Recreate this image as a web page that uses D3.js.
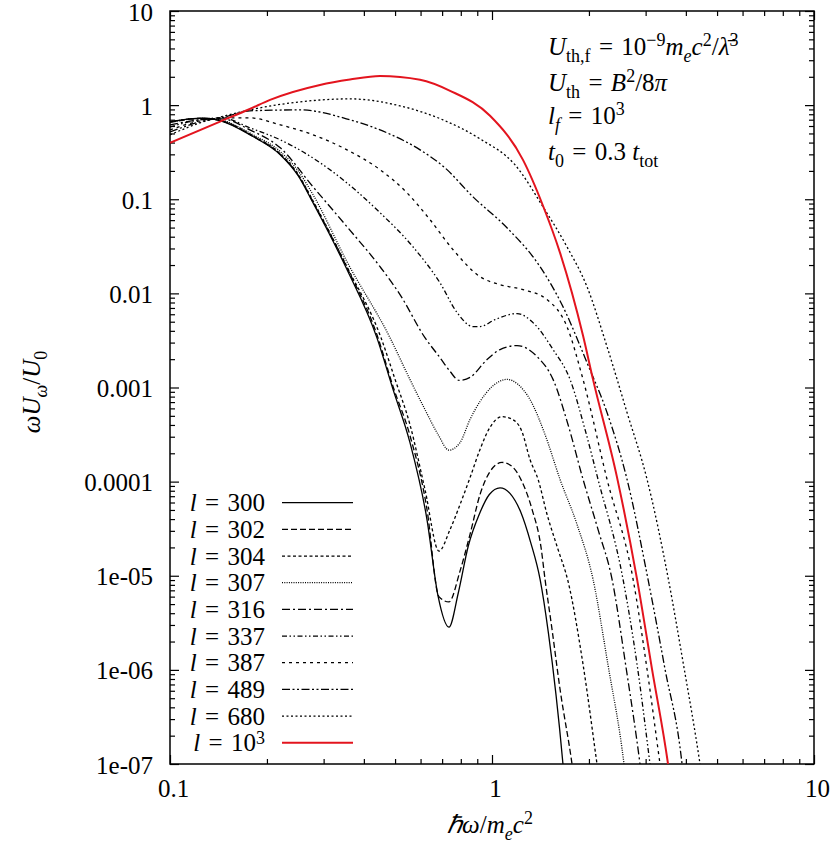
<!DOCTYPE html>
<html>
<head>
<meta charset="utf-8">
<script src="https://cdn.jsdelivr.net/npm/d3@7"></script>
<style>
  body { margin: 0; background: #fff; }
</style>
</head>
<body>
<svg id="chart" width="830" height="843"></svg>
<script>
"use strict";

// [ħω/m_e c², ωU_ω/U_0], one list per l
const l300 = [[0.1,0.669],[0.1266,0.727],[0.143,0.686],[0.181,0.464],[0.22,0.297],[0.25,0.178],[0.278,0.0918],[0.3545,0.0179],[0.439,0.00339],[0.493,0.00095],[0.556,0.000261],[0.628,3.98e-5],[0.68,6.06e-6],[0.735,2.84e-6],[0.786,6.6e-6],[0.844,2.07e-5],[0.913,4.5e-5],[0.981,7.3e-5],[1.059,8.6e-5],[1.137,7.5e-5],[1.228,4.75e-5],[1.319,2.25e-5],[1.41,9.2e-6],[1.496,2.5e-6],[1.661,1e-7],[1.7,4e-8]];
const l302 = [[0.1,0.656],[0.1266,0.724],[0.143,0.689],[0.181,0.466],[0.22,0.3],[0.25,0.181],[0.278,0.094],[0.3545,0.0188],[0.439,0.00365],[0.493,0.00102],[0.556,0.00031],[0.628,5.1e-5],[0.684,6.0e-6],[0.735,5.27e-6],[0.7955,1.12e-5],[0.8545,2.75e-5],[0.918,7.3e-5],[0.986,1.28e-4],[1.074,1.6e-4],[1.154,1.45e-4],[1.239,1.0e-4],[1.331,5.1e-5],[1.42,2.0e-5],[1.461,9.2e-6],[1.536,2.7e-6],[1.626,6.3e-7],[1.772,1e-7],[1.82,5e-8]];
const l304 = [[0.1,0.664],[0.1266,0.724],[0.143,0.689],[0.181,0.472],[0.22,0.304],[0.25,0.184],[0.278,0.0964],[0.3545,0.0192],[0.452,0.00339],[0.5,0.00122],[0.556,0.000405],[0.619,8.3e-5],[0.6845,1.83e-5],[0.741,3.1e-5],[0.7955,5.7e-5],[0.8545,1.1e-4],[0.918,2.2e-4],[0.985,3.76e-4],[1.074,4.9e-4],[1.154,4.6e-4],[1.239,3.4e-4],[1.312,1.72e-4],[1.39,1.06e-4],[1.482,4.5e-5],[1.603,1.91e-5],[1.722,8.75e-6],[1.917,1.15e-6],[2.119,1e-7],[2.2,4e-8]];
const l307 = [[0.1,0.664],[0.1266,0.724],[0.143,0.698],[0.181,0.484],[0.22,0.321],[0.25,0.2],[0.278,0.112],[0.3545,0.0217],[0.482,0.00339],[0.556,0.00122],[0.619,5.84e-4],[0.68,3.17e-4],[0.735,2.16e-4],[0.7955,2.6e-4],[0.8545,4.57e-4],[0.918,7.1e-4],[1.0,1.02e-3],[1.113,1.22e-3],[1.204,1.08e-3],[1.312,7.46e-4],[1.461,3.17e-4],[1.626,1.06e-4],[1.837,3.5e-5],[2.059,9.2e-6],[2.29,1.15e-6],[2.57,1e-7],[2.65,4e-8]];
const l316 = [[0.1,0.617],[0.124,0.698],[0.145,0.715],[0.177,0.546],[0.22,0.352],[0.278,0.1357],[0.3545,0.0511],[0.449,0.0192],[0.518,0.0097],[0.619,0.00339],[0.689,0.00208],[0.741,0.00148],[0.79,0.00119],[0.8545,0.00128],[0.965,0.00198],[1.059,0.00253],[1.196,0.00279],[1.38,0.00213],[1.547,0.00122],[1.722,4.05e-4],[1.917,1.06e-4],[2.134,3.11e-5],[2.359,9.2e-6],[2.607,1.07e-6],[2.882,1e-7],[2.98,4e-8]];
const l337 = [[0.1,0.588],[0.124,0.698],[0.145,0.732],[0.177,0.574],[0.22,0.428],[0.314,0.206],[0.449,0.0719],[0.568,0.0313],[0.689,0.013],[0.779,0.00625],[0.873,0.00444],[0.918,0.00444],[1.022,0.00527],[1.196,0.0061],[1.36,0.00466],[1.547,0.00253],[1.747,0.00122],[1.945,3.58e-4],[2.134,1.06e-4],[2.552,9.2e-6],[2.821,1.15e-6],[3.095,1e-7],[3.2,4e-8]];
const l387 = [[0.1,0.546],[0.124,0.681],[0.148,0.732],[0.177,0.732],[0.22,0.617],[0.278,0.484],[0.3545,0.335],[0.449,0.206],[0.5445,0.117],[0.642,0.0606],[0.757,0.0291],[0.918,0.01505],[1.059,0.01238],[1.248,0.01096],[1.482,0.00859],[1.709,0.00444],[1.917,0.00122],[2.276,1.06e-4],[2.742,9.2e-6],[3.03,1.02e-6],[3.325,1e-7],[3.45,4e-8]];
const l489 = [[0.1,0.52],[0.124,0.664],[0.148,0.75],[0.177,0.87],[0.253,0.89],[0.362,0.698],[0.472,0.508],[0.598,0.335],[0.714,0.216],[0.873,0.106],[1.113,0.0498],[1.41,0.0192],[1.661,0.00723],[1.972,0.00184],[2.276,5.43e-4],[2.626,1.06e-4],[3.051,9.2e-6],[3.446,1.02e-6],[3.892,1e-7],[4.0,4e-8]];
const l680 = [[0.1,0.484],[0.124,0.648],[0.148,0.769],[0.177,0.89],[0.253,1.083],[0.362,1.165],[0.518,0.982],[0.704,0.698],[0.918,0.438],[1.179,0.232],[1.44,0.0832],[1.709,0.0313],[1.972,0.0118],[2.276,0.00272],[2.626,5.43e-4],[3.03,1.06e-4],[3.521,9.6e-6],[3.92,1.21e-6],[4.426,1e-7],[4.6,4e-8]];
const l1000 = [[0.1,0.398],[0.143,0.669],[0.177,0.91],[0.2045,1.137],[0.2922,1.64],[0.362,1.87],[0.449,2.04],[0.598,1.86],[0.741,1.42],[0.986,0.77],[1.248,0.262],[1.44,0.0853],[1.626,0.0271],[1.917,0.00356],[2.059,0.00122],[2.445,1.11e-4],[2.821,9.2e-6],[3.14,1.02e-6],[3.521,1e-7],[3.65,4e-8]];

const series = [l300, l302, l304, l307, l316, l337, l387, l489, l680, l1000];
const legendNames = ["300", "302", "304", "307", "316", "337", "387", "489", "680", "10"];

const xTicks = [0.1, 1, 10];
const xTickLabels = ["0.1", "1", "10"];
const yTicks = [10, 1, 0.1, 0.01, 0.001, 0.0001, 1e-5, 1e-6, 1e-7];
const yTickLabels = ["10", "1", "0.1", "0.01", "0.001", "0.0001", "1e-05", "1e-06", "1e-07"];

// line looks, gnuplot style
const dashes = [null, "6,3", "3,2.5", "1,1.3", "8,3,2,3", "5,2.5,1.5,2.5,1.5,2.5", "3,4", "8,2.5,2,2.5,2,2.5", "2,2.5", null];

const FONT = "'Liberation Serif'";
const EQ = "\u2004=\u2004"; // wider spacing round "=" like TeX

const svg = d3.select("#chart").style("font-family", FONT);
const pLeft = 170, pRight = 814, pTop = 11, pBottom = 764;

const x = d3.scaleLog().domain([0.1, 10]).range([pLeft, pRight]);
const y = d3.scaleLog().domain([1e-7, 10]).range([pBottom, pTop]);

// minor tick values 2..9 per decade
const minorX = [];
[0.1, 1].forEach(d => { for (let k = 2; k <= 9; k++) minorX.push(d * k); });
const minorY = [];
for (let e = -7; e < 1; e++) { for (let k = 2; k <= 9; k++) minorY.push(k * Math.pow(10, e)); }

svg.append("defs").append("clipPath").attr("id", "plotclip")
  .append("rect").attr("x", pLeft).attr("y", pTop).attr("width", pRight - pLeft).attr("height", pBottom - pTop);

function tidy(g) {
  g.attr("font-family", null).attr("font-size", null);
  g.select(".domain").remove();
  g.selectAll(".tick line").attr("stroke", "#000").attr("stroke-width", 1.2);
  g.selectAll(".tick text").style("font-family", FONT).style("font-size", "25px").attr("fill", "#000");
}

// bottom
svg.append("g").attr("transform", `translate(0,${pBottom})`)
  .call(d3.axisBottom(x).tickValues(xTicks).tickSize(-9).tickPadding(15)
    .tickFormat((d, i) => xTickLabels[i]))
  .call(tidy)
  .selectAll(".tick text").attr("dx", 3);
svg.append("g").attr("transform", `translate(0,${pBottom})`)
  .call(d3.axisBottom(x).tickValues(minorX).tickSize(-5).tickFormat(""))
  .call(tidy);
// top
svg.append("g").attr("transform", `translate(0,${pTop})`)
  .call(d3.axisTop(x).tickValues(xTicks).tickSize(-9).tickFormat(""))
  .call(tidy);
svg.append("g").attr("transform", `translate(0,${pTop})`)
  .call(d3.axisTop(x).tickValues(minorX).tickSize(-5).tickFormat(""))
  .call(tidy);
// left
svg.append("g").attr("transform", `translate(${pLeft},0)`)
  .call(d3.axisLeft(y).tickValues(yTicks).tickSize(-9).tickPadding(17)
    .tickFormat((d, i) => yTickLabels[i]))
  .call(tidy)
  .selectAll(".tick text").attr("dy", "0.36em");
svg.append("g").attr("transform", `translate(${pLeft},0)`)
  .call(d3.axisLeft(y).tickValues(minorY).tickSize(-5).tickFormat(""))
  .call(tidy);
// right
svg.append("g").attr("transform", `translate(${pRight},0)`)
  .call(d3.axisRight(y).tickValues(yTicks).tickSize(-9).tickFormat(""))
  .call(tidy);
svg.append("g").attr("transform", `translate(${pRight},0)`)
  .call(d3.axisRight(y).tickValues(minorY).tickSize(-5).tickFormat(""))
  .call(tidy);

svg.append("rect")
  .attr("x", pLeft).attr("y", pTop).attr("width", pRight - pLeft).attr("height", pBottom - pTop)
  .attr("fill", "none").attr("stroke", "#000").attr("stroke-width", 1.5);

// curves
const line = d3.line()
  .x(d => x(d[0]))
  .y(d => y(d[1]))
  .curve(d3.curveMonotoneX);

const curves = svg.append("g").attr("clip-path", "url(#plotclip)");
series.forEach((s, i) => {
  const isRed = i === series.length - 1;
  curves.append("path")
    .datum(s)
    .attr("d", line)
    .attr("fill", "none")
    .attr("stroke", isRed ? "#e3141e" : "#000")
    .attr("stroke-width", isRed ? 2 : 1.3)
    .attr("stroke-dasharray", dashes[i]);
});

// small helper for math-ish text with sub/superscripts
function mathText(g, tx, ty, parts, anchor, size) {
  size = size || 25;
  const t = g.append("text").attr("x", tx).attr("y", ty)
    .attr("text-anchor", anchor || "start")
    .style("font-family", FONT).style("font-size", size + "px").attr("fill", "#000");
  let shift = 0;
  parts.forEach(p => {
    const target = p.sub ? 0.26 * size : p.sup ? -(p.lift || 0.36) * size : 0;
    const ts = t.append("tspan").attr("dy", target - shift).text(p.t);
    shift = target;
    if (p.it) ts.style("font-style", "italic");
    if (p.sub || p.sup) ts.style("font-size", Math.round(size * 0.7) + "px");
  });
  return t;
}

// legend
const legend = svg.append("g");
series.forEach((s, i) => {
  const ly = 502.7 + i * 26.67;
  const parts = [{ t: "l", it: true }, { t: EQ + legendNames[i] }];
  if (i === series.length - 1) parts.push({ t: "3", sup: true, lift: 0.3 });
  mathText(legend, 265, ly + 8.5, parts, "end");
  const isRed = i === series.length - 1;
  legend.append("line")
    .attr("x1", 282).attr("x2", 353).attr("y1", ly).attr("y2", ly)
    .attr("stroke", isRed ? "#e3141e" : "#000")
    .attr("stroke-width", isRed ? 2 : 1.3)
    .attr("stroke-dasharray", dashes[i]);
});

// annotation
const note = svg.append("g");
mathText(note, 548, 55, [
  { t: "U", it: true }, { t: "th,f", sub: true }, { t: EQ + "10" }, { t: "−9", sup: true },
  { t: "m", it: true }, { t: "e", sub: true, it: true }, { t: "c", it: true }, { t: "2", sup: true },
  { t: "/" }, { t: "λ̄", it: true }, { t: "3", sup: true }
]);
mathText(note, 548, 91, [
  { t: "U", it: true }, { t: "th", sub: true }, { t: EQ }, { t: "B", it: true },
  { t: "2", sup: true }, { t: "/8" }, { t: "π", it: true }
]);
mathText(note, 548, 124, [
  { t: "l", it: true }, { t: "f", sub: true, it: true }, { t: EQ + "10" }, { t: "3", sup: true }
]);
mathText(note, 548, 160, [
  { t: "t", it: true }, { t: "0", sub: true }, { t: EQ + "0.3 " }, { t: "t", it: true }, { t: "tot", sub: true }
]);

// axis titles
mathText(svg, 490, 833, [
  { t: "ℏω", it: true }, { t: "/" }, { t: "m", it: true }, { t: "e", sub: true, it: true },
  { t: "c", it: true }, { t: "2", sup: true }
], "middle");

const yt = svg.append("g").attr("transform", "translate(40,392) rotate(-90)");
mathText(yt, 0, 0, [
  { t: "ωU", it: true }, { t: "ω", sub: true, it: true }, { t: "/" }, { t: "U", it: true }, { t: "0", sub: true }
], "middle");
</script>
</body>
</html>
